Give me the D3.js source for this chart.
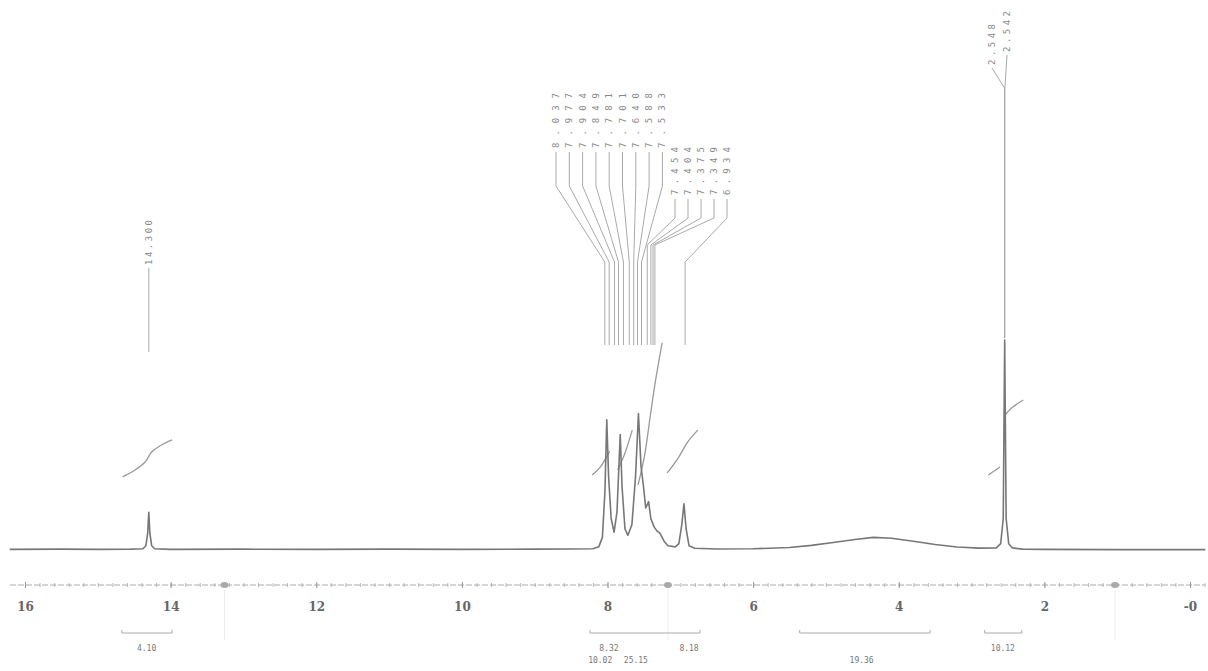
<!DOCTYPE html>
<html>
<head>
<meta charset="utf-8">
<script src="https://cdn.jsdelivr.net/npm/d3@7"></script>
<style>
  html, body { margin: 0; padding: 0; background: #fff; }
  svg { display: block; }
</style>
</head>
<body>
<svg id="chart" width="1208" height="671"></svg>
<script>
// ---------------- DATA ----------------
const axisTicks = [16, 14, 12, 10, 8, 6, 4, 2, 0];
const axisTickLabels = ["16", "14", "12", "10", "8", "6", "4", "2", "-0"];

// spectrum trace: [ppm, intensity]
const spectrum = [
  [16.21,0.3],[15.5,0.4],[15.0,0.3],[14.55,0.4],[14.38,0.6],[14.34,2],[14.315,8],[14.30,18],
  [14.285,8],[14.26,2],[14.22,0.6],[14.0,0.3],[13.0,0.4],[12.0,0.3],[11.0,0.4],[10.0,0.3],
  [9.0,0.4],[8.5,0.5],[8.2,0.6],[8.12,1.5],[8.07,6],[8.035,28],[8.01,62],[7.985,35],[7.95,15],
  [7.91,8.5],[7.87,18],[7.825,55],[7.80,30],[7.76,10],[7.72,7],[7.665,12],[7.615,35],[7.575,65],
  [7.54,40],[7.505,30],[7.475,20],[7.435,23],[7.405,15],[7.36,11],[7.32,9],[7.28,8],[7.22,4],
  [7.17,2],[7.07,1.5],[7.02,3],[6.98,12],[6.95,22],[6.92,10],[6.88,2],[6.80,0.8],[6.5,0.5],
  [6.0,0.6],[5.5,1.2],[5.2,2.2],[4.9,3.6],[4.6,5.0],[4.35,6.0],[4.1,5.6],[3.8,4.2],[3.5,2.6],
  [3.2,1.4],[2.9,0.9],[2.66,1.0],[2.60,3],[2.565,15],[2.545,100],[2.525,15],[2.49,3],[2.44,1],
  [2.3,0.4],[2.0,0.3],[1.0,0.2],[0,0.2],[-0.21,0.2]
];

// peak pick labels
const peakLabelsSingle = ["14.300"];
const peakLabelsGroup1 = ["8.037","7.977","7.904","7.849","7.781","7.701","7.640","7.588","7.533"];
const peakLabelsGroup2 = ["7.454","7.404","7.375","7.349","6.934"];
const peakLabelsDmso = ["2.548","2.542"];

// integral curves: [ppm, level]
const integral14 = [[14.66,34.8],[14.49,38.1],[14.35,41.9],[14.26,46.7],[14.15,49.5],[13.98,52.4]];
const integralA = [[8.21,35.7],[8.10,39.5],[7.97,47.1]];
const integralB = [[7.86,38.1],[7.77,45.2],[7.66,57.1]];
const integralC = [[7.58,31.0],[7.49,45.2],[7.42,61.9],[7.35,78.6],[7.25,98.6]];
const integralD = [[7.18,36.7],[7.03,43.8],[6.90,51.4],[6.76,57.1]];
const integralE1 = [[2.77,35.7],[2.61,39.5]];
const integralE2 = [[2.55,63.8],[2.45,67.6],[2.29,71.4]];

// integration regions (bars below axis)
const integralFrom = [14.67, 8.24, 5.36, 2.82];
const integralTo   = [13.98, 6.73, 3.57, 2.31];
// integration values: text, ppm (centre), row
const integralText = ["4.10", "8.32", "8.18", "10.02", "25.15", "19.36", "10.12"];
const integralTextPpm = [14.33, 7.98, 6.88, 8.10, 7.61, 4.51, 2.57];
const integralTextRow = [0, 0, 0, 1, 1, 1, 0];

// small markers on axis
const axisMarkers = [13.26, 7.17, 1.03];

// ---------------- DRAW ----------------
const svg = d3.select("#chart");
const x = d3.scaleLinear().domain([16, 0]).range([25, 1190]);
const y = d3.scaleLinear().domain([0, 100]).range([550, 340]);

const grey = "#777";

// integral curves
const iline = d3.line().x(d => x(d[0])).y(d => y(d[1])).curve(d3.curveCatmullRom);
[integral14, integralA, integralB, integralC, integralD, integralE1, integralE2].forEach(c => {
  svg.append("path").attr("d", iline(c)).attr("fill", "none")
    .attr("stroke", "#999").attr("stroke-width", 1.3);
});

// spectrum
const sline = d3.line().x(d => x(d[0])).y(d => y(d[1]));
svg.append("path").attr("d", sline(spectrum)).attr("fill", "none")
  .attr("stroke", grey).attr("stroke-width", 1.6).attr("stroke-linejoin", "round");

// peak labels + leaders
const labFont = "'DejaVu Sans Mono', monospace";
function vlabel(txt, lx, bottom, len) {
  svg.append("text")
    .attr("transform", `translate(${lx + 3},${bottom}) rotate(-90)`)
    .attr("font-family", labFont).attr("font-size", 9).attr("fill", "#888")
    .attr("textLength", len).attr("lengthAdjust", "spacing")
    .text(txt);
}
const leaderStroke = "#aaa";
// single 14.300
peakLabelsSingle.forEach(t => {
  const lx = x(+t);
  vlabel(t, lx, 265, 45);
  svg.append("path").attr("d", `M${lx},268V352`).attr("stroke", leaderStroke).attr("fill", "none");
});
// group 1
peakLabelsGroup1.forEach((t, i) => {
  const lx = 556 + i * 13.3;
  const tx = x(+t);
  vlabel(t, lx, 148, 55);
  svg.append("path").attr("d", `M${lx},152V186L${tx},262V345`)
    .attr("stroke", leaderStroke).attr("fill", "none");
});
// group 2
peakLabelsGroup2.forEach((t, i) => {
  const lx = 675 + i * 13;
  const tx = x(+t);
  vlabel(t, lx, 195, 48);
  const b2 = i === peakLabelsGroup2.length - 1 ? 262 : 245;
  svg.append("path").attr("d", `M${lx},199V218L${tx},${b2}V345`)
    .attr("stroke", leaderStroke).attr("fill", "none");
});
// DMSO
peakLabelsDmso.forEach((t, i) => {
  const lx = 992 + i * 15;
  const bottom = 65 - i * 13;
  const tx = x(+t);
  vlabel(t, lx, bottom, 41);
  svg.append("path").attr("d", `M${lx},${bottom + 3}L${tx},88V338`)
    .attr("stroke", leaderStroke).attr("fill", "none");
});

// axis
const axisY = 585;
const minor = d3.range(16, -0.21, -0.2);
const gMinor = svg.append("g").attr("transform", `translate(0,${axisY})`)
  .call(d3.axisBottom(x).tickValues(minor).tickSize(2).tickFormat(""));
gMinor.select(".domain").remove();
gMinor.selectAll("line").attr("stroke", "#bbb").attr("y1", -2);
const gAxis = svg.append("g").attr("transform", `translate(0,${axisY})`)
  .call(d3.axisBottom(x).tickValues(axisTicks).tickSize(3)
    .tickFormat((d, i) => axisTickLabels[i]));
gAxis.select(".domain").attr("d", `M10,0H1205`).attr("stroke", "#aaa")
  .attr("stroke-dasharray", "6,2");
gAxis.selectAll(".tick line").attr("stroke", "#999").attr("y1", -3);
gAxis.selectAll(".tick text")
  .attr("font-family", "'DejaVu Serif', serif").attr("font-size", 12)
  .attr("font-weight", "bold").attr("fill", "#666").attr("y", 17);

// axis markers
axisMarkers.forEach(p => {
  svg.append("line").attr("x1", x(p)).attr("x2", x(p)).attr("y1", 590).attr("y2", 640)
    .attr("stroke", "#eee");
  svg.append("ellipse").attr("cx", x(p)).attr("cy", axisY).attr("rx", 4).attr("ry", 3)
    .attr("fill", "#aaa");
});

// integration bars
integralFrom.forEach((f, i) => {
  const x1 = x(f), x2 = x(integralTo[i]);
  svg.append("path").attr("d", `M${x1},630V633H${x2}V630`)
    .attr("stroke", "#aaa").attr("fill", "none");
});
integralText.forEach((t, i) => {
  svg.append("text").attr("x", x(integralTextPpm[i]))
    .attr("y", 651 + integralTextRow[i] * 12)
    .attr("text-anchor", "middle")
    .attr("font-family", labFont).attr("font-size", 8).attr("fill", "#777")
    .text(t);
});
</script>
</body>
</html>
